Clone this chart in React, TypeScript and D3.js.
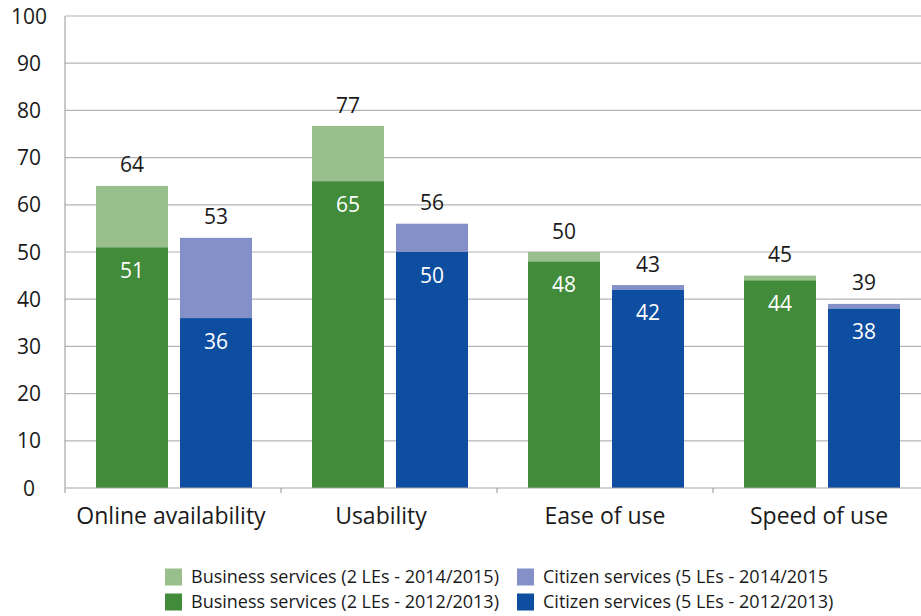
import React from "react";
import * as d3 from "d3";

const categories = ["Online availability", "Usability", "Ease of use", "Speed of use"];
const business2012 = [51, 65, 48, 44];
const business2014 = [64, 76.7, 50, 45];
const citizen2012 = [36, 50, 42, 38];
const citizen2014 = [53, 56, 43, 39];
const yTicks = [0, 10, 20, 30, 40, 50, 60, 70, 80, 90, 100];
const legendItems = [
  { label: "Business services (2 LEs - 2014/2015)", color: "#99bf8c" },
  { label: "Citizen services (5 LEs - 2014/2015", color: "#8491c9" },
  { label: "Business services (2 LEs - 2012/2013)", color: "#418b3a" },
  { label: "Citizen services (5 LEs - 2012/2013)", color: "#0d4ea0" },
];

const W = 921;
const H = 616;
const FONT = "'Open Sans', 'Noto Sans', sans-serif";

export default function App() {
  const left = 65;
  const top = 16;
  const bottom = 488;
  const bandW = 216;
  const x = d3
    .scaleBand<string>()
    .domain(categories)
    .range([left, left + bandW * categories.length])
    .paddingInner(0)
    .paddingOuter(0);
  const y = d3.scaleLinear().domain([0, 100]).range([bottom, top]);
  const barW = 72;
  const gap = 12;
  const offset = 31;
  const labelShift = [-2, -8, 0, -2];

  const groups = [
    { lower: business2012, upper: business2014, cLow: "#418b3a", cUp: "#99bf8c", dx: offset },
    { lower: citizen2012, upper: citizen2014, cLow: "#0d4ea0", cUp: "#8491c9", dx: offset + barW + gap },
  ];

  return (
    <svg width={W} height={H} style={{ position: "absolute", left: 0, top: 0, background: "#fff" }}>
      {yTicks.map((t) => (
        <g key={t}>
          {t > 0 && (
            <line x1={left} x2={W} y1={y(t)} y2={y(t)} stroke="#b4b4b4" strokeWidth={1.2} />
          )}
          <text
            x={29}
            y={y(t)}
            dy="0.36em"
            textAnchor="middle"
            fontFamily={FONT}
            fontSize={21}
            fill="#1a1a1a"
          >
            {t}
          </text>
        </g>
      ))}
      <line x1={left} x2={left} y1={top} y2={bottom} stroke="#a6a6a6" strokeWidth={1.2} />
      {groups.map((g, gi) =>
        categories.map((c, i) => {
          const bx = (x(c) as number) + g.dx;
          const yl = y(g.lower[i]);
          const yu = y(g.upper[i]);
          return (
            <g key={gi + "-" + c}>
              <rect x={bx} y={yu} width={barW} height={yl - yu} fill={g.cUp} />
              <rect x={bx} y={yl} width={barW} height={bottom - yl} fill={g.cLow} />
              <text
                x={bx + barW / 2}
                y={yu - 21}
                textAnchor="middle"
                dy="0.36em"
                fontFamily={FONT}
                fontSize={21}
                fill="#1a1a1a"
              >
                {Math.round(g.upper[i])}
              </text>
              <text
                x={bx + barW / 2}
                y={yl + 23}
                textAnchor="middle"
                dy="0.36em"
                fontFamily={FONT}
                fontSize={21}
                fill="#ffffff"
              >
                {Math.round(g.lower[i])}
              </text>
            </g>
          );
        })
      )}
      <line x1={left} x2={W} y1={bottom} y2={bottom} stroke="#a6a6a6" strokeWidth={1.2} />
      {d3.range(categories.length + 1).map((k) => {
        const tx = left + bandW * k;
        return <line key={k} x1={tx} x2={tx} y1={bottom} y2={bottom + 5} stroke="#a6a6a6" strokeWidth={1.2} />;
      })}
      {categories.map((c, i) => (
        <text
          key={c}
          x={(x(c) as number) + bandW / 2 + labelShift[i]}
          y={524}
          textAnchor="middle"
          fontFamily={FONT}
          fontSize={23}
          fill="#1a1a1a"
        >
          {c}
        </text>
      ))}
      {legendItems.map((it, i) => {
        const col = i % 2;
        const row = Math.floor(i / 2);
        const lx = col === 0 ? 165 : 517;
        const ly = row === 0 ? 577 : 602;
        return (
          <g key={it.label}>
            <rect x={lx} y={ly - 8.5} width={17} height={17} fill={it.color} />
            <text
              x={lx + 26}
              y={ly}
              dy="0.36em"
              fontFamily={FONT}
              fontSize={18}
              fill="#1a1a1a"
            >
              {it.label}
            </text>
          </g>
        );
      })}
    </svg>
  );
}
